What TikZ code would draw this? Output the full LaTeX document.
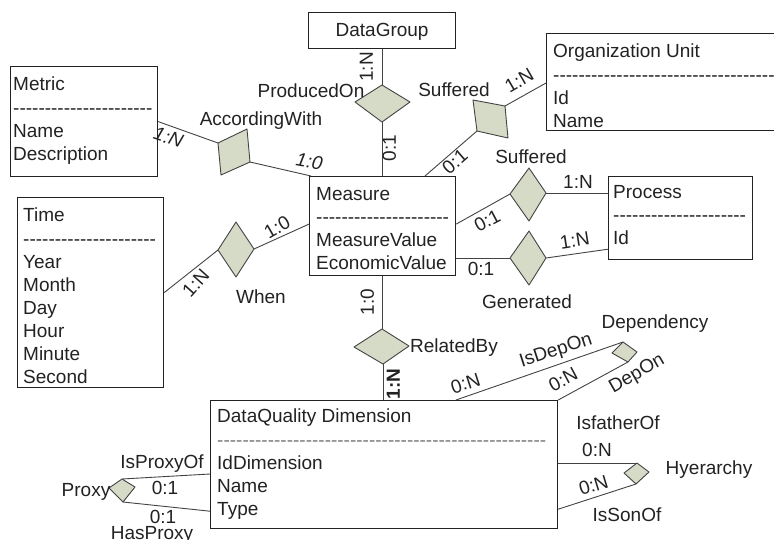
\documentclass[tikz,border=0pt]{standalone}
\usepackage{fontspec}
\setmainfont{Liberation Sans}
\usetikzlibrary{calc}
\definecolor{relfill}{HTML}{D6DBC8}
\definecolor{ink}{HTML}{222222}
% a row of separate hyphens (kerns keep them from joining into dashes)
\newcommand\hyphenrow[1]{\foreach \k in {1,...,#1}{-\kern0pt}}

\tikzset{
  ent/.style={draw=ink, line width=1.2pt, inner sep=0pt, anchor=north west},
  attrs/.style={anchor=north west, inner sep=0pt, align=left, text=ink,
                font=\fontsize{19}{23.1}\selectfont},
  rel/.style={draw=ink!85, fill=relfill, line width=0.9pt, line join=round},
  conn/.style={draw=ink!85, line width=0.9pt},
  lbl/.style={text=ink, font=\fontsize{19}{23}\selectfont, inner sep=0pt,
              text height=13.6pt, text depth=3.9pt},
  ilbl/.style={lbl, font=\fontsize{19}{23}\selectfont\itshape},
  blbl/.style={lbl, font=\fontsize{19}{23}\selectfont\bfseries},
}

\begin{document}
\begin{tikzpicture}[x=1pt, y=-1pt]
\useasboundingbox (0,0) rectangle (774,539);
\clip (0,0) rectangle (774,539);

% ---------- entities ----------
\node[ent, minimum width=147pt, minimum height=36pt]  (datagroup) at (308,12)  {};
\node[ent, minimum width=147pt, minimum height=110pt] (metric)    at (10,66)   {};
\node[ent, minimum width=146pt, minimum height=190pt] (time)      at (17,197)  {};
\node[ent, minimum width=146pt, minimum height=99pt]  (measure)   at (309,176) {};
\node[ent, minimum width=260pt, minimum height=97pt]  (org)       at (546,33)  {};
\node[ent, minimum width=144pt, minimum height=83pt]  (process)   at (608,176) {};
\node[ent, minimum width=347pt, minimum height=128pt] (dq)        at (210,400) {};

\node[lbl] (datagroup-name) at ([yshift=-1pt]datagroup.center) {DataGroup};
\node[attrs] (metric-attrs)  at (13,77)  {Metric\\\hyphenrow{22}\\Name\\Description};
\node[attrs] (time-attrs)    at (23,208) {Time\\\hyphenrow{21}\\Year\\Month\\Day\\Hour\\Minute\\Second};
\node[attrs] (measure-attrs) at (316,187) {Measure\\\hyphenrow{21}\\MeasureValue\\EconomicValue};
\node[attrs] (org-attrs)     at (553,44) {Organization Unit\\\hyphenrow{40}\\Id\\Name};
\node[attrs] (process-attrs) at (613,185) {Process\\\hyphenrow{21}\\Id};
\node[attrs] (dq-attrs)      at (217,409) {DataQuality Dimension\\{\color{ink!60}\hyphenrow{52}}\\IdDimension\\Name\\Type};

% ---------- relationship corners ----------
\coordinate (po-l) at (355,102); \coordinate (po-t) at (382,85);
\coordinate (po-r) at (410,102); \coordinate (po-b) at (382,122);
\coordinate (aw-tl) at (218,143); \coordinate (aw-tr) at (247,129);
\coordinate (aw-br) at (250,162); \coordinate (aw-bl) at (221,175);
\coordinate (sa-tl) at (473,100); \coordinate (sa-tr) at (505,106);
\coordinate (sa-br) at (508,138); \coordinate (sa-bl) at (477,131);
\coordinate (sb-t) at (529,168); \coordinate (sb-r) at (546,193);
\coordinate (sb-b) at (529,221); \coordinate (sb-l) at (510,194);
\coordinate (ge-t) at (529,231); \coordinate (ge-r) at (546,258);
\coordinate (ge-b) at (529,285); \coordinate (ge-l) at (510,258);
\coordinate (wh-t) at (236,222); \coordinate (wh-r) at (254,249);
\coordinate (wh-b) at (236,277); \coordinate (wh-l) at (218,250);
\coordinate (rb-l) at (354,347); \coordinate (rb-t) at (382,329);
\coordinate (rb-r) at (409,346); \coordinate (rb-b) at (383,364);
\coordinate (de-t) at (623,342); \coordinate (de-r) at (637,352);
\coordinate (de-b) at (628,362); \coordinate (de-l) at (612,353);
\coordinate (hy-t) at (637,463); \coordinate (hy-r) at (649,472);
\coordinate (hy-b) at (636,484); \coordinate (hy-l) at (624,473);
\coordinate (px-l) at (109,488); \coordinate (px-t) at (122,479);
\coordinate (px-r) at (135,487); \coordinate (px-b) at (123,502);

% ---------- connectors ----------
\draw[conn] (po-t |- datagroup.south) -- (po-t);
\draw[conn] (po-b) -- (po-b |- measure.north);
\draw[conn] (metric.east) -- (aw-tl);
\draw[conn] (aw-br) -- ([xshift=2pt]measure.north west);
\draw[conn] ([xshift=116pt]measure.north west) -- (sa-bl);
\draw[conn] (sa-tr) -- ([yshift=-50pt]org.north west);
\draw[conn] ([yshift=2pt]measure.east) -- (sb-l);
\draw[conn] (sb-r) -- (process.west |- sb-r);
\draw[conn] (measure.east |- ge-l) -- (ge-l);
\draw[conn] (ge-r) -- ([yshift=11pt]process.south west);
\draw[conn] (time.east) -- (wh-l);
\draw[conn] (wh-r) -- ([yshift=2pt]measure.west);
\draw[conn] (rb-t |- measure.south) -- (rb-t);
\draw[conn] (rb-b) -- (rb-b |- dq.north);
\draw[conn] ([xshift=246pt]dq.north west) -- (de-t);
\draw[conn] (dq.north east) -- (de-b);
\draw[conn] (dq.east |- hy-t) -- (hy-t);
\draw[conn] ([yshift=20pt]dq.south east) -- (hy-b);
\draw[conn] ([yshift=-74pt]dq.north west) -- (px-t);
\draw[conn] ([yshift=18pt]dq.south west) -- (px-b);

% ---------- relationships ----------
\draw[rel] (po-l) -- (po-t) -- (po-r) -- (po-b) -- cycle;
\draw[rel] (aw-tl) -- (aw-tr) -- (aw-br) -- (aw-bl) -- cycle;
\draw[rel] (sa-tl) -- (sa-tr) -- (sa-br) -- (sa-bl) -- cycle;
\draw[rel] (sb-t) -- (sb-r) -- (sb-b) -- (sb-l) -- cycle;
\draw[rel] (ge-t) -- (ge-r) -- (ge-b) -- (ge-l) -- cycle;
\draw[rel] (wh-t) -- (wh-r) -- (wh-b) -- (wh-l) -- cycle;
\draw[rel] (rb-t) -- (rb-r) -- (rb-b) -- (rb-l) -- cycle;
\draw[rel] (de-t) -- (de-r) -- (de-b) -- (de-l) -- cycle;
\draw[rel] (hy-t) -- (hy-r) -- (hy-b) -- (hy-l) -- cycle;
\draw[rel] (px-t) -- (px-r) -- (px-b) -- (px-l) -- cycle;

% ---------- relationship names ----------
\node[lbl] (n-po)  at (311,93)  {ProducedOn};
\node[lbl] (n-aw)  at (261,121) {AccordingWith};
\node[lbl] (n-sa)  at (454,92)  {Suffered};
\node[lbl] (n-sb)  at (531,159) {Suffered};
\node[lbl] (n-ge)  at (527,304) {Generated};
\node[lbl] (n-wh)  at (261,299) {When};
\node[lbl] (n-rb)  at (454,348) {RelatedBy};
\node[lbl] (n-de)  at (655,324) {Dependency};
\node[lbl, rotate=18] (n-isdep) at (556,351) {IsDepOn};
\node[lbl, rotate=30] (n-dep)   at (637,374) {DepOn};
\node[lbl] (n-isf) at (618,425) {IsfatherOf};
\node[lbl] (n-hy)  at (709,470) {Hyerarchy};
\node[lbl] (n-iss) at (627,517) {IsSonOf};
\node[lbl] (n-ipo) at (162,464) {IsProxyOf};
\node[lbl] (n-px)  at (86,492)  {Proxy};
\node[lbl] (n-hp)  at (152,535) {HasProxy};

% ---------- cardinalities ----------
\node[lbl, rotate=90]  (c1)  at (368,67)  {1:N};
\node[lbl, rotate=90]  (c2)  at (391,148) {0:1};
\node[ilbl, rotate=-19] (c3) at (168,139) {1:N};
\node[ilbl, rotate=-10] (c4) at (309,163) {1:0};
\node[lbl, rotate=30]  (c5)  at (520,82)  {1:N};
\node[lbl, rotate=41]  (c6)  at (456,163) {0:1};
\node[lbl]             (c7)  at (578,184) {1:N};
\node[lbl, rotate=28]  (c8)  at (488,222) {0:1};
\node[lbl]             (c9)  at (481,271) {0:1};
\node[lbl, rotate=9]   (c10) at (575,242) {1:N};
\node[lbl, rotate=30]  (c11) at (278,229) {1:0};
\node[lbl, rotate=48]  (c12) at (197,284) {1:N};
\node[lbl, rotate=90]  (c13) at (369,302) {1:0};
\node[blbl, rotate=90] (c14) at (395,384) {1:N};
\node[lbl, rotate=18]  (c15) at (466,385) {0:N};
\node[lbl, rotate=28]  (c16) at (564,381) {0:N};
\node[lbl]             (c17) at (597,452) {0:N};
\node[lbl, rotate=17]  (c18) at (594,487) {0:N};
\node[lbl]             (c19) at (165,490) {0:1};
\node[lbl]             (c20) at (163,519) {0:1};
\end{tikzpicture}
\end{document}
